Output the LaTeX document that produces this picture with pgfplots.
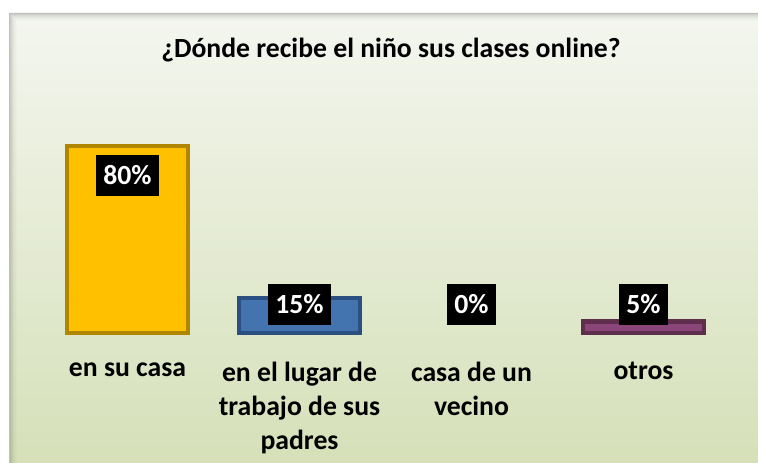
\documentclass[border=0pt]{standalone}
\usepackage{pgfplots}
\pgfplotsset{compat=1.18}
\usepackage{fontspec}
\setmainfont{Carlito}
\definecolor{bgtop}{HTML}{F4F6EF}
\definecolor{bgbot}{HTML}{D5E0B8}
\definecolor{yfill}{HTML}{FFC000}
\definecolor{yedge}{HTML}{B08500}
\definecolor{bfill}{HTML}{4474B0}
\definecolor{bedge}{HTML}{2A4F80}
\definecolor{pfill}{HTML}{8A4579}
\definecolor{pedge}{HTML}{5E2E4C}
\newcommand{\bigtxt}{\fontsize{27.7bp}{34bp}\selectfont\bfseries}
\begin{document}
\begin{tikzpicture}
\begin{scope}[x=1bp,y=1bp]
\useasboundingbox (0,0) rectangle (758,463);
\fill[white] (0,0) rectangle (758,463);
\shade[top color=bgtop, bottom color=bgbot] (9,-5) rectangle (770,450);
% inner shadow of the frame
\fill[black!25] (9,-5) rectangle (10,450);
\fill[black!25] (9,449) rectangle (770,450);
\foreach \i/\o in {1/0.16,2/0.12,3/0.09,4/0.06,5/0.04,6/0.025,7/0.012}{
  \fill[black, opacity=\o] (9+\i,-5) rectangle (10+\i,449-\i+1);
  \fill[black, opacity=\o] (10+\i,449-\i) rectangle (770,450-\i);
}
\node[font=\bigtxt, text=black] at (391,413) {¿Dónde recibe el niño sus clases online?};
\end{scope}
\begin{axis}[
  at={(127.5bp,130bp)}, anchor=origin,
  scale only axis, width=688bp, height=198.7bp,
  xmin=-0.5, xmax=3.5, ymin=0, ymax=85,
  axis line style={draw=none},
  ytick=\empty,
  xtick={0,1,2,3},
  xticklabels={en su casa,{en el lugar de\\trabajo de sus\\padres},{casa de un\\vecino},otros},
  xticklabel style={align=center, anchor=north, font=\bigtxt, yshift=-26bp},
  major tick length=0pt,
  clip=false,
]
\addplot[ybar, bar width=121bp, bar shift=0pt, fill=yfill, draw=yedge, line width=4.5bp] coordinates {(0,80)};
\addplot[ybar, bar width=121bp, bar shift=0pt, fill=bfill, draw=bedge, line width=4.5bp] coordinates {(1,15)};
\addplot[ybar, bar width=121bp, bar shift=0pt, fill=none, draw=none] coordinates {(2,0)};
\addplot[ybar, bar width=121bp, bar shift=0pt, fill=pfill, draw=pedge, line width=4.5bp] coordinates {(3,5)};
% data labels (y = label position, meta = value)
\addplot[draw=none, mark=none, point meta=explicit symbolic,
  nodes near coords={\pgfplotspointmeta\%},
  every node near coord/.style={fill=black, text=white, font=\bigtxt, inner xsep=7bp, inner ysep=0pt, minimum height=41bp, anchor=center}]
  table[meta=v] {
x y v
0 67.4 80
1 12.3 15
2 12.3 0
3 12.3 5
};
\end{axis}
\end{tikzpicture}
\end{document}
